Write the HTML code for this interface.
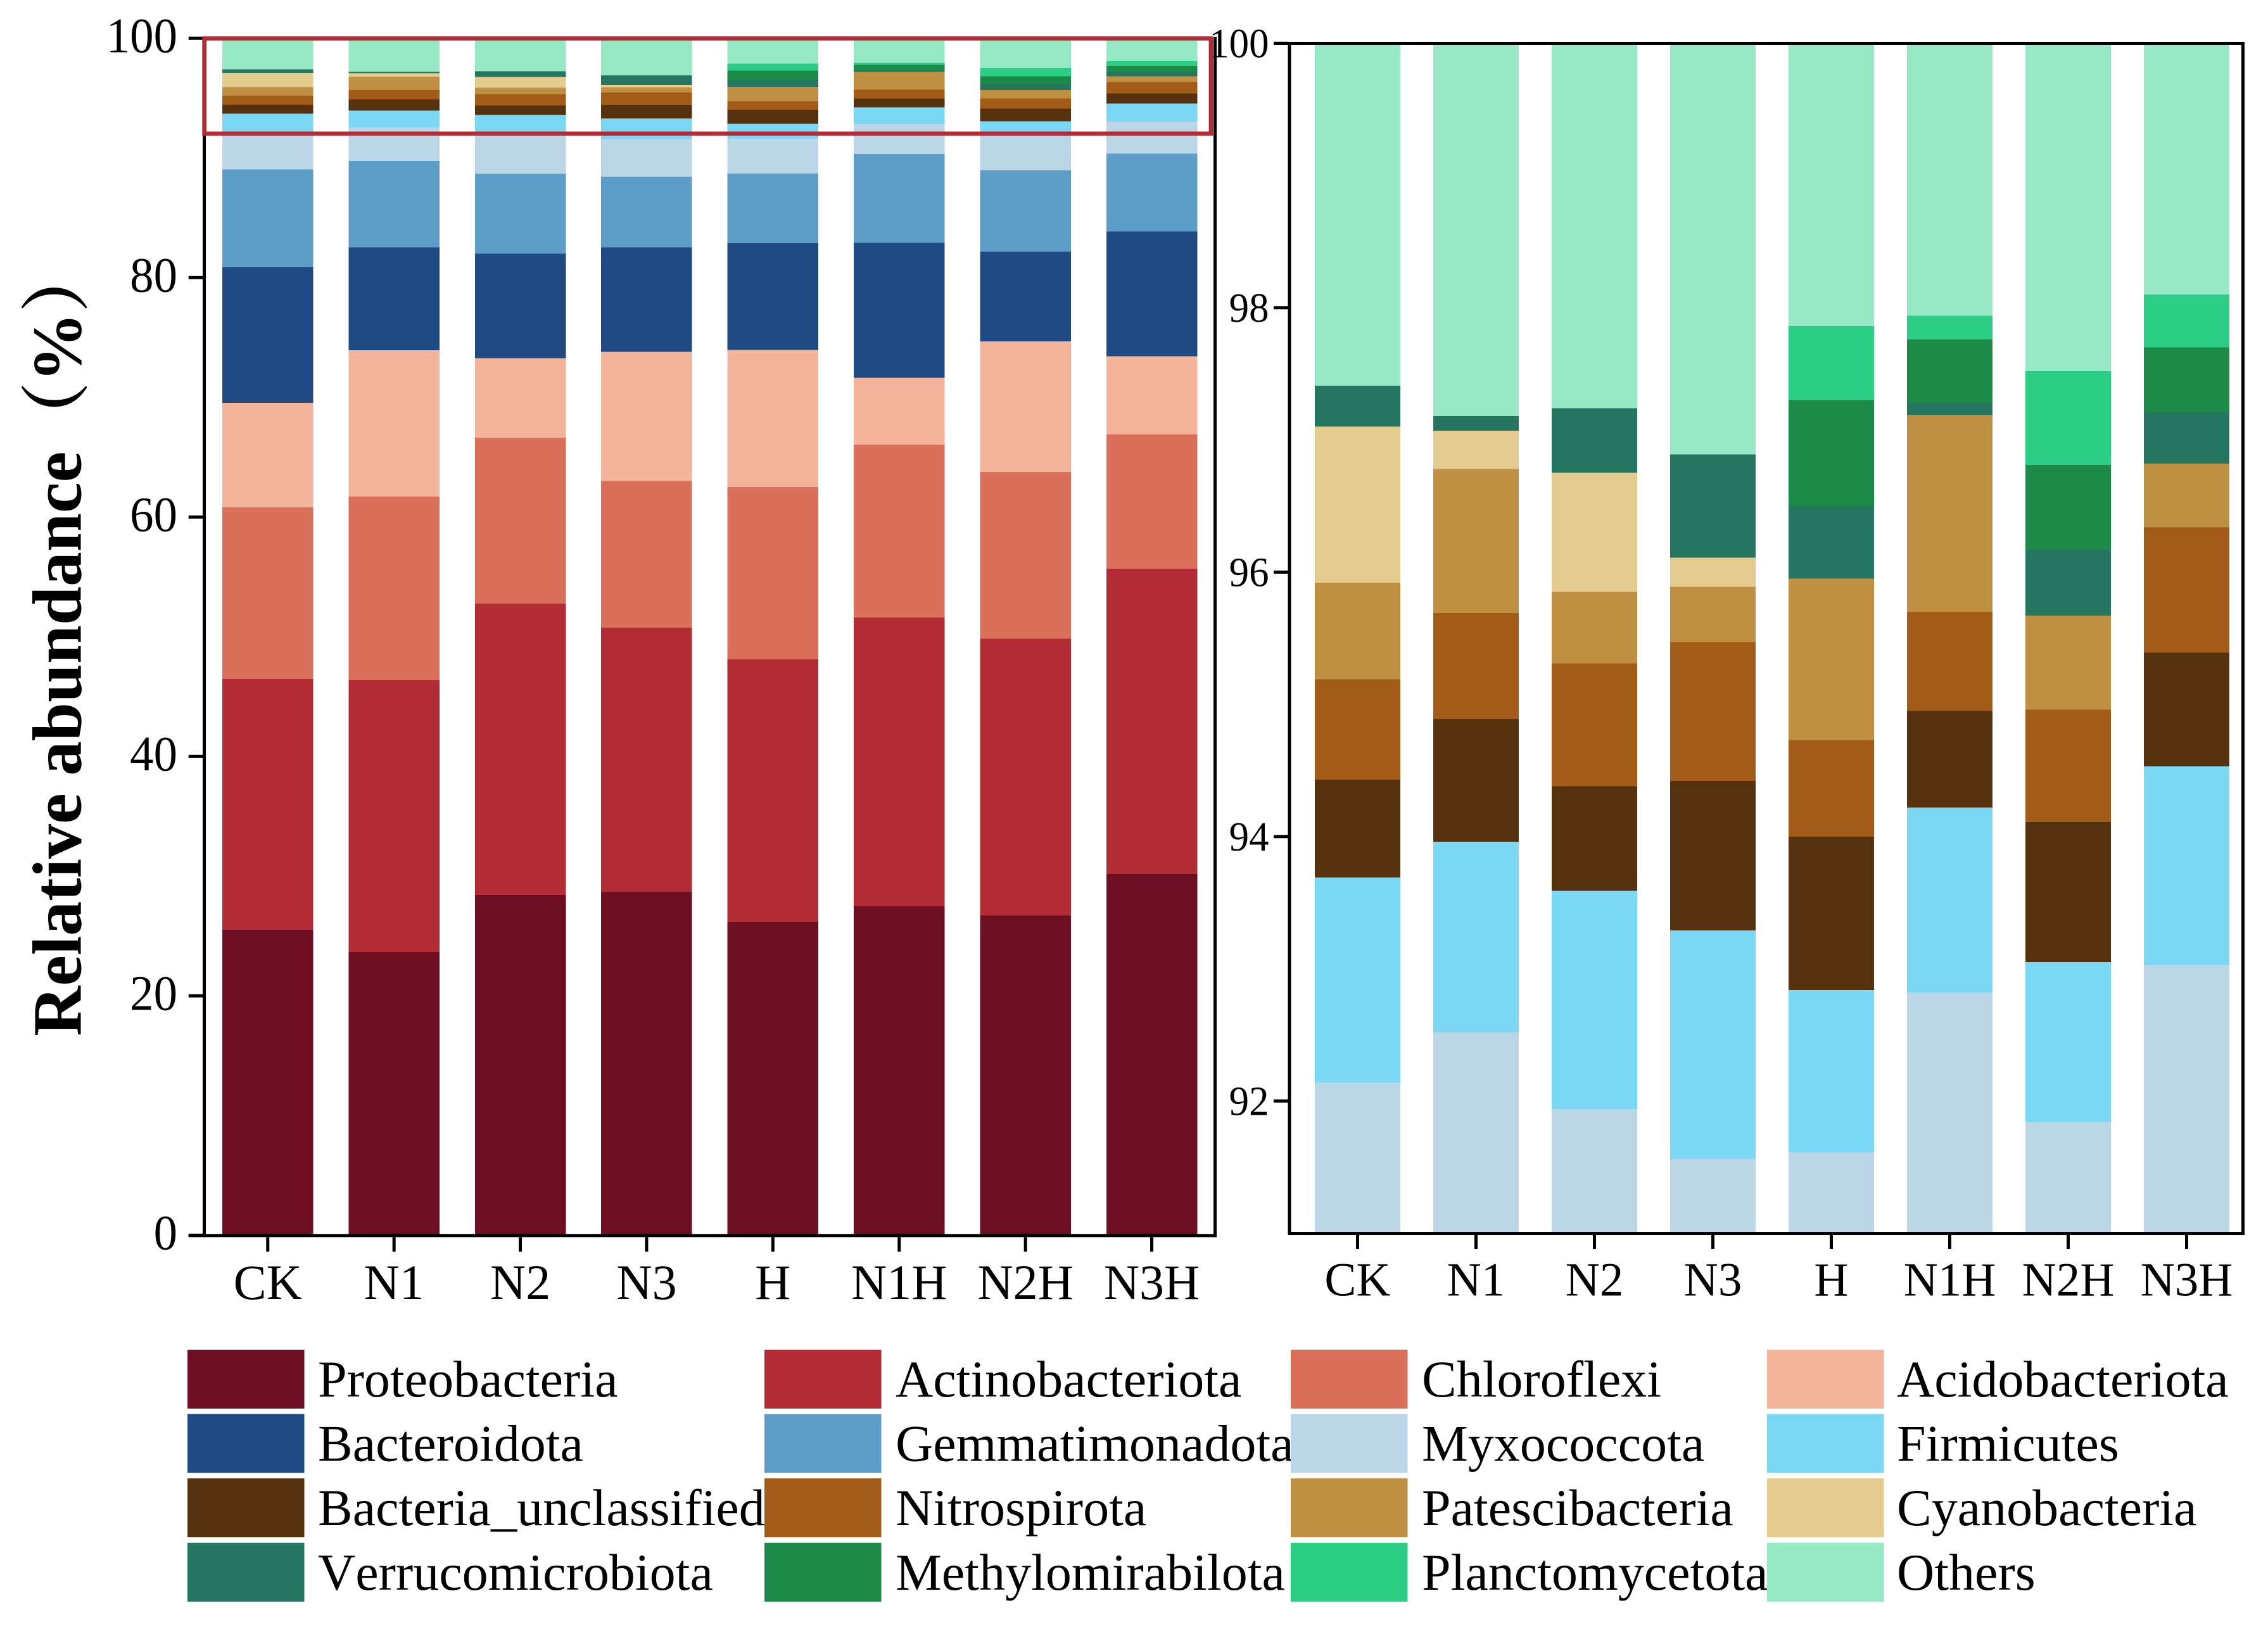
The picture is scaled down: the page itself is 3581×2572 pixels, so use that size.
<!DOCTYPE html>
<html lang="en">
<head>
<meta charset="utf-8">
<title>Relative abundance stacked bars</title>
<style>
html,body{margin:0;padding:0;background:#fff;}
svg{display:block;}
text{font-family:"Liberation Serif","Noto Serif CJK SC",serif;fill:#000;font-kerning:none;}
</style>
</head>
<body>
<svg id="chart" xmlns="http://www.w3.org/2000/svg" width="3581" height="2572" viewBox="0 0 3581 2572">
<rect x="0" y="0" width="3581" height="2572" fill="#ffffff"/>
<g id="left-panel"></g>
<g id="right-panel"></g>
<text transform="translate(127.7,1636) rotate(-90)" font-size="109.7" font-weight="700">Relative abundance（%）</text>
<rect x="322.7" y="60.7" width="1589.3" height="150.3" fill="none" stroke="#B32B35" stroke-width="6.8"/>
<g id="legend"></g>
</svg>
<script>
const categories = ["CK","N1","N2","N3","H","N1H","N2H","N3H"];
const seriesNames = ["Proteobacteria","Actinobacteriota","Chloroflexi","Acidobacteriota","Bacteroidota","Gemmatimonadota","Myxococcota","Firmicutes","Bacteria_unclassified","Nitrospirota","Patescibacteria","Cyanobacteria","Verrucomicrobiota","Methylomirabilota","Planctomycetota","Others"];
const proteobacteria = [25.53,23.67,28.43,28.69,26.15,27.47,26.71,30.17];
const actinobacteriota = [20.93,22.70,24.34,22.07,21.97,24.12,23.13,25.50];
const chloroflexi = [14.34,15.35,13.86,12.24,14.39,14.47,13.94,11.23];
const acidobacteriota = [8.73,12.20,6.63,10.79,11.45,5.58,10.89,6.53];
const bacteroidota = [11.32,8.60,8.73,8.73,8.91,11.27,7.50,10.41];
const gemmatimonadota = [8.20,7.24,6.67,5.92,5.83,7.42,6.80,6.53];
const myxococcota = [3.09,2.76,3.28,3.12,2.91,2.49,2.87,2.66];
const firmicutes = [1.55,1.44,1.65,1.73,1.23,1.40,1.21,1.50];
const bacteriaUnclassified = [0.74,0.93,0.79,1.13,1.16,0.73,1.06,0.86];
const nitrospirota = [0.76,0.80,0.93,1.05,0.73,0.75,0.85,0.95];
const patescibacteria = [0.73,1.09,0.54,0.42,1.22,1.49,0.71,0.48];
const cyanobacteria = [1.18,0.29,0.90,0.22,0,0,0,0];
const verrucomicrobiota = [0.31,0.11,0.49,0.78,0.55,0.09,0.50,0.39];
const methylomirabilota = [0,0,0,0,0.80,0.48,0.64,0.49];
const planctomycetota = [0,0,0,0,0.56,0.18,0.71,0.40];
const others = [2.59,2.82,2.76,3.11,2.14,2.06,2.48,1.90];
const leftTicks = [0,20,40,60,80,100];
const rightTicks = [92,94,96,98,100];
const seriesColors = ["#6E0E22","#B32B35","#DA705A","#F4B499","#1F4A84","#5D9EC8","#BAD6E7","#7AD8F5","#56310E","#A35B18","#BF9042","#E4CC8E","#257660","#1B8B47","#2CCE86","#97E8C4"];

const allSeries = [proteobacteria,actinobacteriota,chloroflexi,acidobacteriota,bacteroidota,gemmatimonadota,myxococcota,firmicutes,bacteriaUnclassified,nitrospirota,patescibacteria,cyanobacteria,verrucomicrobiota,methylomirabilota,planctomycetota,others];
const NS = "http://www.w3.org/2000/svg";

function make(parent, tag, attrs, content) {
  const el = document.createElementNS(NS, tag);
  Object.keys(attrs).forEach(function (k) { el.setAttribute(k, attrs[k]); });
  if (content !== undefined) el.textContent = content;
  parent.appendChild(el);
  return el;
}
function slug(s) { return s.toLowerCase().replace(/[^a-z0-9]+/g, "-"); }

function drawPanel(root, cfg) {
  const bars = make(root, "g", {});
  
  
  categories.forEach(function (cat, c) {
    let base = 0;
    allSeries.forEach(function (vals, s) {
      const lo = base;
      const hi = base + vals[c];
      base = hi;
      if (vals[c] <= 0 || hi <= cfg.min) return;
      const yTop = cfg.y(hi);
      const yBot = cfg.y(Math.max(lo, cfg.min));
      const r = make(bars, "rect", {x: cfg.barX(c), y: yTop, width: cfg.barW, height: yBot - yTop, fill: seriesColors[s], "shape-rendering": "crispEdges"});
      
      
    });
  });
  const f = cfg.frame;
  [[f.l, f.spineTop, 5, f.b + 5 - f.spineTop, 'left-spine'],
   [f.r, f.spineTop, 5, f.b + 5 - f.spineTop, 'right-spine'],
   [f.bottomL, f.b, f.r + 5 - f.bottomL, 5, 'bottom-spine']].forEach(function (d) {
    const r = make(root, "rect", {x: d[0], y: d[1], width: d[2], height: d[3], fill: "#000"});
    
    
  });
  if (f.top !== undefined) {
    const t = make(root, "rect", {x: f.tickL, y: f.top, width: f.r + 5 - f.tickL, height: 5, fill: "#000"});
    
    
  }
  cfg.ticks.forEach(function (v) {
    const yy = cfg.y(v);
    const m = make(root, "rect", {x: f.tickL, y: yy - 2.5, width: f.l - f.tickL, height: 5, fill: "#000"});
    
    
    const l = make(root, "text", {transform: "translate(" + cfg.yLabelX + "," + (yy + 22) + ") scale(0.96,1)", "text-anchor": "end", "font-size": cfg.yFont}, String(v));
    
    
  });
  categories.forEach(function (cat, c) {
    const cx = cfg.barX(c) + cfg.barW / 2;
    const m = make(root, "rect", {x: cx - 2.5, y: f.b + 5, width: 5, height: cfg.xTickLen, fill: "#000"});
    
    
    const l = make(root, "text", {x: cx, y: cfg.xLabelY, "text-anchor": "middle", "font-size": cfg.xFont}, cat);
    
    
  });
}

drawPanel(document.getElementById("left-panel"), {
  prefix: "full",
  min: 0,
  y: function (v) { return 1950.3 - 18.9 * v; },
  barX: function (c) { return 351 + 199.4 * c; },
  barW: 143.5,
  frame: {l: 320, r: 1916, b: 1948.3, spineTop: 58, tickL: 297.7, bottomL: 297.7},
  ticks: leftTicks,
  yLabelX: 280,
  yFont: 78,
  xFont: 78,
  xLabelY: 2051,
  xTickLen: 23
});
drawPanel(document.getElementById("right-panel"), {
  prefix: "zoom",
  min: 91,
  y: function (v) { return 68.3 + (100 - v) * 208.75; },
  barX: function (c) { return 2076 + 187 * c; },
  barW: 135,
  frame: {l: 2033.5, r: 3539, b: 1945, spineTop: 66, top: 66, tickL: 2011, bottomL: 2033.5},
  ticks: rightTicks,
  yLabelX: 2003.5,
  yFont: 65.5,
  xFont: 75,
  xLabelY: 2045.3,
  xTickLen: 22
});

const legend = document.getElementById("legend");
const swatchCols = [296, 1207, 2038, 2790];
const labelCols = [502, 1414, 2245, 2995];
seriesNames.forEach(function (name, i) {
  const col = i % 4;
  const row = Math.floor(i / 4);
  const top = 2131 + row * 101.6;
  const sw = make(legend, "rect", {x: swatchCols[col], y: top, width: 184.5, height: 93, fill: seriesColors[i]});
  
  
  const tx = make(legend, "text", {x: labelCols[col], y: top + 74, "font-size": 82}, name);
  
  
});
</script>
</body>
</html>
